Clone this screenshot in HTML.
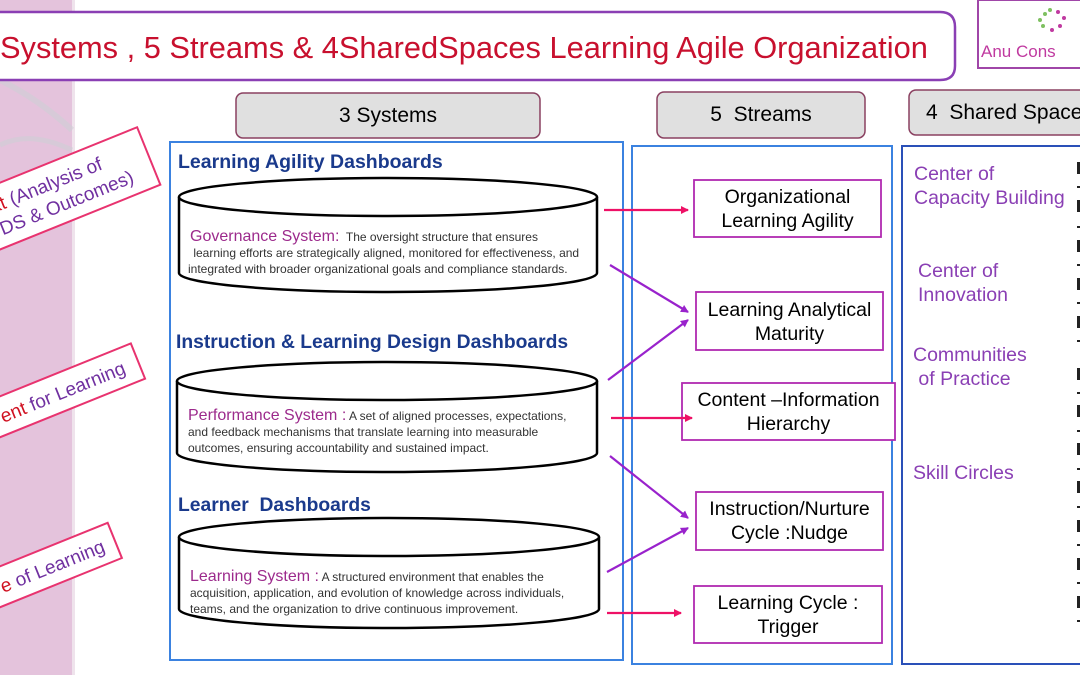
<!DOCTYPE html>
<html><head><meta charset="utf-8"><style>
body{margin:0;width:1080px;height:675px;overflow:hidden;background:#fff;font-family:"Liberation Sans",sans-serif;position:relative}
.a{position:absolute}
</style></head><body>
<div class="a" style="left:0;top:0;width:72px;height:675px;background:#e4c3dc;border-right:3px solid #efe3ec"></div>
<svg class="a" style="left:0;top:0" width="1080" height="675">
<defs>
<marker id="mp" markerWidth="8" markerHeight="8" refX="7" refY="4" orient="auto" markerUnits="userSpaceOnUse"><path d="M0,0 L8,4 L0,8z" fill="#ee1166"/></marker>
<marker id="mv" markerWidth="8" markerHeight="8" refX="7" refY="4" orient="auto" markerUnits="userSpaceOnUse"><path d="M0,0 L8,4 L0,8z" fill="#9922cc"/></marker>
</defs>
<path d="M0,80 Q40,100 72,130" stroke="#cfcfd6" stroke-width="6" fill="none" opacity=".6"/>
<path d="M0,145 Q30,130 72,150" stroke="#cfcfd6" stroke-width="5" fill="none" opacity=".6"/>
<path d="M-5,12 H940 Q955,12 955,27 V66 Q955,80 940,80 H-5" fill="#fff" stroke="#8a3fb4" stroke-width="2.5"/>
<rect x="978" y="0" width="110" height="68" fill="#fff" stroke="#a046a8" stroke-width="2"/>
<g fill="#7ec060"><circle cx="1045" cy="14" r="2"/><circle cx="1040" cy="20" r="2"/><circle cx="1043" cy="26" r="2"/><circle cx="1050" cy="10" r="2"/></g>
<g fill="#c03aa0"><circle cx="1058" cy="12" r="2"/><circle cx="1064" cy="18" r="2"/><circle cx="1060" cy="26" r="2"/><circle cx="1052" cy="30" r="2"/></g>
<rect x="236" y="93" width="304" height="45" rx="7" fill="#e0e0e0" stroke="#8a4060" stroke-width="1.5"/>
<rect x="657" y="92" width="208" height="46" rx="7" fill="#e0e0e0" stroke="#8a4060" stroke-width="1.5"/>
<rect x="909" y="90" width="190" height="45" rx="7" fill="#e0e0e0" stroke="#8a4060" stroke-width="1.5"/>
<rect x="170" y="142" width="453" height="518" fill="none" stroke="#3b82e0" stroke-width="2"/>
<rect x="632" y="146" width="260" height="518" fill="none" stroke="#3b82e0" stroke-width="2"/>
<rect x="902" y="146" width="190" height="518" fill="none" stroke="#2a50b8" stroke-width="2"/>
<g fill="#fff" stroke="#000" stroke-width="2.5">
<path d="M179,197 V273 A209,19 0 0 0 597,273 V197"/><ellipse cx="388" cy="197" rx="209" ry="19"/>
<path d="M177,381 V453 A210,19 0 0 0 597,453 V381"/><ellipse cx="387" cy="381" rx="210" ry="19"/>
<path d="M179,537 V609 A210,19 0 0 0 599,609 V537"/><ellipse cx="389" cy="537" rx="210" ry="19"/>
</g>
<g fill="#fff" stroke="#b02ab0" stroke-width="1.8">
<rect x="694" y="180" width="187" height="57"/>
<rect x="696" y="292" width="187" height="58"/>
<rect x="682" y="383" width="213" height="57"/>
<rect x="696" y="492" width="187" height="58"/>
<rect x="694" y="586" width="188" height="57"/>
</g>
<g stroke-width="2.2" fill="none">
<line x1="604" y1="210" x2="688" y2="210" stroke="#ee1166" marker-end="url(#mp)"/>
<line x1="611" y1="418" x2="692" y2="418" stroke="#ee1166" marker-end="url(#mp)"/>
<line x1="607" y1="613" x2="681" y2="613" stroke="#ee1166" marker-end="url(#mp)"/>
<line x1="610" y1="265" x2="688" y2="312" stroke="#9922cc" marker-end="url(#mv)"/>
<line x1="608" y1="380" x2="688" y2="320" stroke="#9922cc" marker-end="url(#mv)"/>
<line x1="610" y1="456" x2="688" y2="518" stroke="#9922cc" marker-end="url(#mv)"/>
<line x1="607" y1="572" x2="688" y2="528" stroke="#9922cc" marker-end="url(#mv)"/>
</g>
<g transform="translate(0,215) rotate(-22)"><rect x="-60" y="-30" width="220" height="62" fill="#fff" stroke="#e8336f" stroke-width="2"/>
<text x="-5" y="-4" font-size="19" fill="#7030a0"><tspan fill="#d01020">xt</tspan> (Analysis of</text>
<text x="-5" y="20" font-size="19" fill="#7030a0">DS &amp; Outcomes)</text></g>
<g transform="translate(0,420) rotate(-22)"><rect x="-60" y="-22" width="210" height="38" fill="#fff" stroke="#e8336f" stroke-width="2"/>
<text x="2" y="4" font-size="19" fill="#7030a0"><tspan fill="#d01020">ent</tspan> for Learning</text></g>
<g transform="translate(0,590) rotate(-22)"><rect x="-60" y="-22" width="185" height="38" fill="#fff" stroke="#e8336f" stroke-width="2"/>
<text x="2" y="4" font-size="19" fill="#7030a0"><tspan fill="#d01020">e</tspan> of Learning</text></g>
<g fill="#222">
<rect x="1077" y="162" width="3" height="12"/><rect x="1077" y="186" width="3" height="2"/>
<rect x="1077" y="200" width="3" height="12"/><rect x="1077" y="226" width="3" height="2"/>
<rect x="1077" y="240" width="3" height="12"/><rect x="1077" y="264" width="3" height="2"/>
<rect x="1077" y="278" width="3" height="12"/><rect x="1077" y="302" width="3" height="2"/>
<rect x="1077" y="316" width="3" height="12"/><rect x="1077" y="340" width="3" height="2"/>
<rect x="1077" y="368" width="3" height="12"/><rect x="1077" y="392" width="3" height="2"/>
<rect x="1077" y="405" width="3" height="12"/><rect x="1077" y="430" width="3" height="2"/>
<rect x="1077" y="443" width="3" height="12"/><rect x="1077" y="468" width="3" height="2"/>
<rect x="1077" y="481" width="3" height="12"/><rect x="1077" y="506" width="3" height="2"/>
<rect x="1077" y="520" width="3" height="12"/><rect x="1077" y="544" width="3" height="2"/>
<rect x="1077" y="558" width="3" height="12"/><rect x="1077" y="582" width="3" height="2"/>
<rect x="1077" y="596" width="3" height="12"/><rect x="1077" y="620" width="3" height="2"/>
</g>
</svg>
<div class="a" style="left:0;top:30px;font-size:30.8px;color:#c8102e;white-space:nowrap">Systems , 5 Streams &amp; 4SharedSpaces Learning Agile Organization</div>
<div class="a" style="left:981px;top:42px;font-size:17px;color:#c03aa0;white-space:nowrap">Anu Cons</div>
<div class="a" style="left:236px;top:104px;width:304px;text-align:center;font-size:21px">3 Systems</div>
<div class="a" style="left:657px;top:103px;width:208px;text-align:center;font-size:21px">5&nbsp; Streams</div>
<div class="a" style="left:926px;top:101px;font-size:21px;white-space:nowrap">4&nbsp; Shared Spaces</div>
<div class="a" style="left:178px;top:151px;font-size:19.5px;font-weight:bold;color:#1a3a8c;white-space:nowrap">Learning Agility Dashboards</div>
<div class="a" style="left:176px;top:332px;font-size:19.3px;font-weight:bold;color:#1a3a8c;white-space:nowrap">Instruction &amp; Learning Design Dashboards</div>
<div class="a" style="left:178px;top:495px;font-size:19.3px;font-weight:bold;color:#1a3a8c;white-space:nowrap">Learner&nbsp; Dashboards</div>
<div class="a" style="left:190px;top:229px;width:420px;font-size:12px;line-height:16px;color:#333;white-space:nowrap"><span style="font-size:16px;color:#9c2a8c">Governance System:</span>&nbsp; The oversight structure that ensures<br>&nbsp;learning efforts are strategically aligned, monitored for effectiveness, and<br><span style="margin-left:-2px">integrated with broader organizational goals and compliance standards.</span></div>
<div class="a" style="left:188px;top:408px;width:420px;font-size:12px;line-height:16px;color:#333;white-space:nowrap"><span style="font-size:16px;color:#9c2a8c">Performance System :</span> A set of aligned processes, expectations,<br>and feedback mechanisms that translate learning into measurable<br>outcomes, ensuring accountability and sustained impact.</div>
<div class="a" style="left:190px;top:569px;width:420px;font-size:12px;line-height:16px;color:#333;white-space:nowrap"><span style="font-size:16px;color:#9c2a8c">Learning System :</span> A structured environment that enables the<br>acquisition, application, and evolution of knowledge across individuals,<br>teams, and the organization to drive continuous improvement.</div>
<div class="a" style="left:694px;top:185px;width:187px;text-align:center;font-size:19.5px;line-height:24px;white-space:nowrap">Organizational<br>Learning Agility</div>
<div class="a" style="left:696px;top:298px;width:187px;text-align:center;font-size:19.5px;line-height:24px;white-space:nowrap">Learning Analytical<br>Maturity</div>
<div class="a" style="left:682px;top:388px;width:213px;text-align:center;font-size:19.5px;line-height:24px;white-space:nowrap">Content –Information<br>Hierarchy</div>
<div class="a" style="left:696px;top:497px;width:187px;text-align:center;font-size:19.5px;line-height:24px;white-space:nowrap">Instruction/Nurture<br>Cycle :Nudge</div>
<div class="a" style="left:694px;top:591px;width:188px;text-align:center;font-size:19.5px;line-height:24px;white-space:nowrap">Learning Cycle :<br>Trigger</div>
<div class="a" style="left:914px;top:162px;font-size:19.5px;line-height:24px;color:#8a3fb4;white-space:nowrap">Center of<br>Capacity Building</div>
<div class="a" style="left:918px;top:259px;font-size:19.5px;line-height:24px;color:#8a3fb4">Center of<br>Innovation</div>
<div class="a" style="left:913px;top:343px;font-size:19.5px;line-height:24px;color:#8a3fb4;white-space:nowrap">Communities<br>&nbsp;of Practice</div>
<div class="a" style="left:913px;top:462px;font-size:19.5px;color:#8a3fb4">Skill Circles</div>
</body></html>
